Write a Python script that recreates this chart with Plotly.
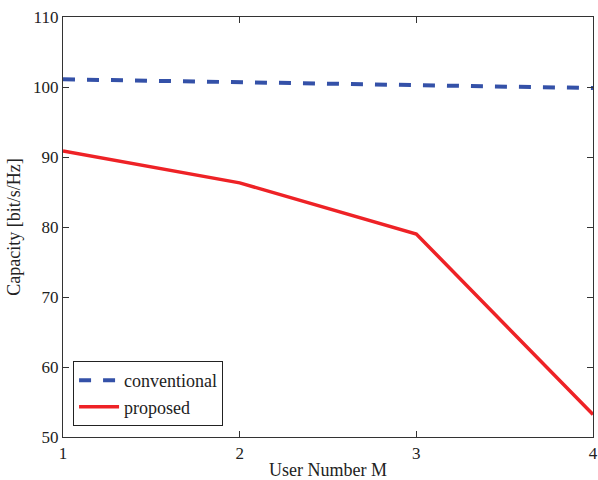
import plotly.graph_objects as go

user_number = [1, 2, 3, 4]
conventional = [101.1, 100.7, 100.35, 99.85]
proposed = [90.85, 86.3, 79.0, 53.2]

fig = go.Figure()
fig.add_trace(go.Scatter(x=user_number, y=conventional, mode="lines", name="conventional",
                         line=dict(color="#3451A8", width=4, dash="dash")))
fig.add_trace(go.Scatter(x=user_number, y=proposed, mode="lines", name="proposed",
                         line=dict(color="#EE2226", width=3.5)))

axis_common = dict(showgrid=False, zeroline=False, showline=True, linecolor="#333333", linewidth=1.3,
                   mirror="ticks", ticks="inside", ticklen=6, tickcolor="#333333",
                   ticklabeloverflow="allow",
                   tickfont=dict(family="Liberation Serif", size=17, color="#222222"))
fig.update_xaxes(range=[1, 4], tickvals=[1, 2, 3, 4],
                 title=dict(text="User Number M", font=dict(family="Liberation Serif", size=18, color="#222222"), standoff=2),
                 **axis_common)
fig.update_yaxes(range=[50, 110], tickvals=[50, 60, 70, 80, 90, 100, 110],
                 title=dict(text="Capacity [bit/s/Hz]", font=dict(family="Liberation Serif", size=18, color="#222222"), standoff=7),
                 **axis_common)
fig.update_layout(width=598, height=480, margin=dict(l=63, r=5, t=17, b=43, autoexpand=False),
                  plot_bgcolor="white", paper_bgcolor="white",
                  font=dict(family="Liberation Serif", size=17, color="#222222"),
                  legend=dict(x=0.019, y=0.026, xanchor="left", yanchor="bottom",
                              bordercolor="#222222", borderwidth=1, bgcolor="white",
                              font=dict(family="Liberation Serif", size=18, color="#222222"),
                              tracegroupgap=0, itemwidth=40),
                  showlegend=True)
fig.write_html("out.html", config={"displayModeBar": False},
               post_script="document.body.style.margin='0';document.body.style.overflow='hidden';")
